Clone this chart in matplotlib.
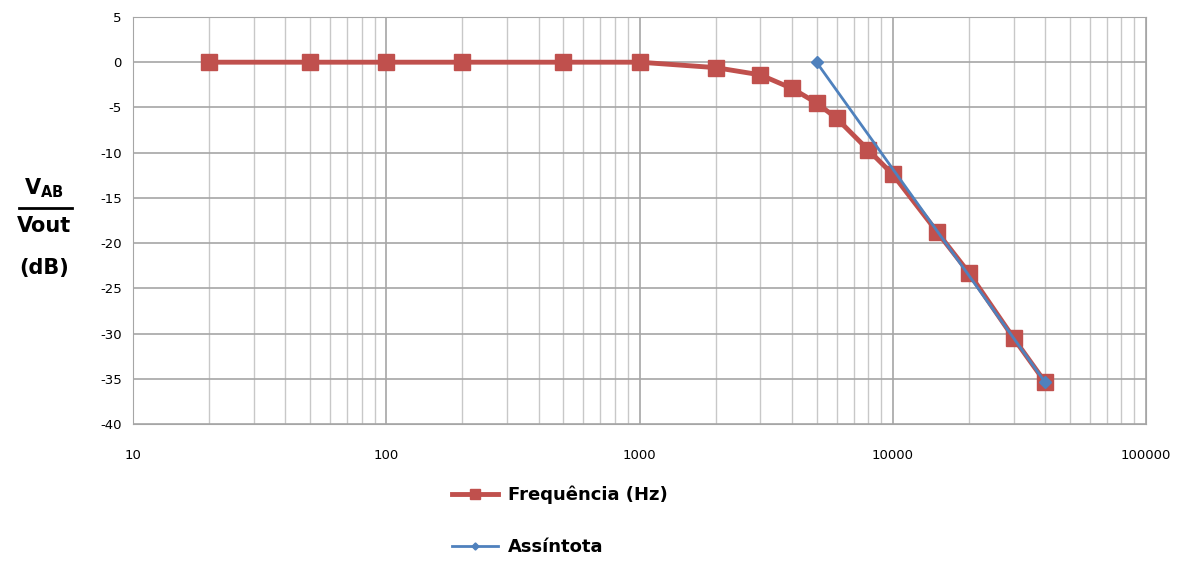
import numpy as np
import matplotlib.pyplot as plt
from matplotlib.lines import Line2D

plt.rcParams['axes.unicode_minus'] = False

# frequency response measured points
freq = [20, 50, 100, 200, 500, 1000, 2000, 3000, 4000, 5000, 6000, 8000,
        10000, 15000, 20000, 30000, 40000]
gain_db = [0, 0, 0, 0, 0, 0, -0.6, -1.4, -2.9, -4.5, -6.2, -9.7,
           -12.4, -18.8, -23.3, -30.5, -35.4]

# asymptote (-40 dB/dec from the cutoff)
asym_f = [5000, 40000]
asym_db = [0, -35.4]

red = '#C0504D'
blue = '#4F81BD'

fig = plt.figure(figsize=(11.95, 5.62), dpi=100)
ax = fig.add_axes([0.1113, 0.2456, 0.8477, 0.7242])

ax.plot(freq, gain_db, color=red, lw=3.5, marker='s', ms=12,
        label='Frequência (Hz)', zorder=3)
ax.plot(asym_f, asym_db, color=blue, lw=2, marker='D', ms=6,
        label='Assíntota', zorder=4)

ax.set_xscale('log')
ax.set_xlim(10, 100000)
ax.set_ylim(-40, 5)
ax.set_yticks(np.arange(-40, 6, 5))
ax.set_xticks([10, 100, 1000, 10000, 100000])
ax.set_xticklabels(['10', '100', '1000', '10000', '100000'])

ax.grid(True, which='major', color='#A6A6A6', lw=1.2)
ax.grid(True, which='minor', axis='x', color='#C8C8C8', lw=1.0)
ax.tick_params(which='both', length=0, labelsize=9.5)
ax.tick_params(axis='x', pad=18)
ax.tick_params(axis='y', pad=8)
for s in ax.spines.values():
    s.set_color('#A6A6A6')

# y axis label drawn as a fraction
fig.text(0.037, 0.665, r'V$_{\mathbf{AB}}$', fontsize=15, fontweight='bold',
         ha='center', va='center')
fig.add_artist(Line2D([0.016, 0.060], [0.630, 0.630], color='black', lw=2))
fig.text(0.037, 0.598, 'Vout', fontsize=15, fontweight='bold',
         ha='center', va='center')
fig.text(0.037, 0.523, '(dB)', fontsize=15, fontweight='bold',
         ha='center', va='center')

fig.legend(loc='upper left', bbox_to_anchor=(0.365, 0.165), ncol=1,
           frameon=False, prop={'weight': 'bold', 'size': 13},
           handlelength=2.5, handletextpad=0.6, labelspacing=1.9,
           markerscale=0.6)

fig.savefig('out.png', dpi=100)
